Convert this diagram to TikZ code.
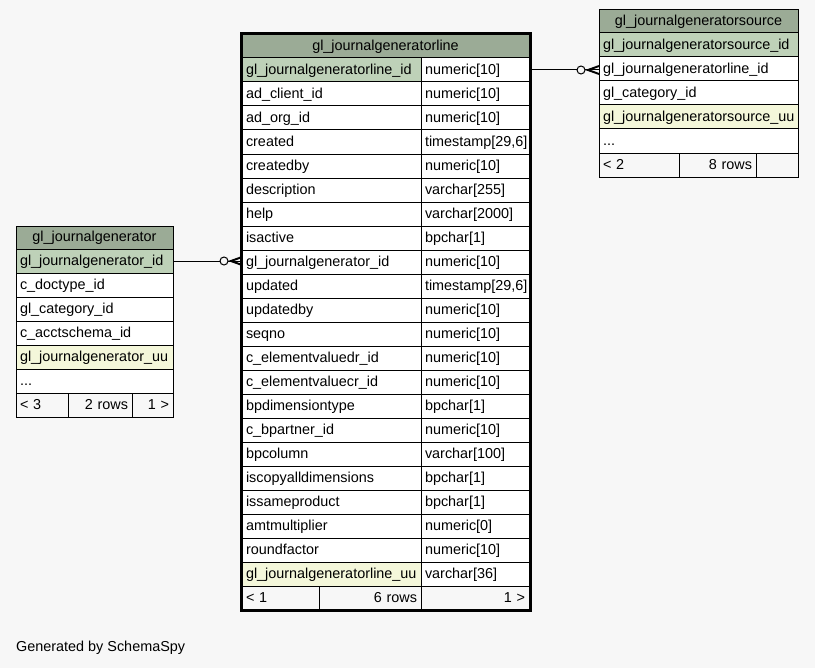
\documentclass[tikz,border=0pt]{standalone}
\usepackage{fontspec}
\setmainfont{Liberation Sans}
\usetikzlibrary{calc}
\definecolor{bgc}{HTML}{F7F7F7}
\definecolor{hdrc}{HTML}{9BAB96}
\definecolor{pkc}{HTML}{BED1B8}
\definecolor{uuc}{HTML}{F4F7DA}
\newcommand\cellfont{\fontsize{14.4bp}{17bp}\selectfont}
\newcommand\threedots{...}
\newcommand\crowend[1]{%
  \begin{scope}[shift={(#1)}]
    \fill[black] (-14,0) -- (0,-5) -- (0,-3) -- (-8,0) -- (0,3) -- (0,5) -- cycle;
    \draw[black, line width=1bp] (-14,0) -- (0,0);
    \draw[black, line width=1bp, fill=bgc] (-18,0) circle[radius=4];
  \end{scope}}
\begin{document}
\begin{tikzpicture}[x=1bp,y=-1bp,
  cell/.style={draw=black, line width=1bp, anchor=north west, minimum height=24bp,
    inner xsep=4bp, inner ysep=0pt, outer sep=0pt, font=\cellfont, align=left,
    text height=11.2bp, text depth=2.4bp},
  hdr/.style={cell, fill=hdrc, align=center, minimum height=23bp},
  foot/.style={cell, fill=bgc},
  conn/.style={draw=black, line width=1bp},
]
\fill[bgc] (0,0) rectangle (815,668);
\useasboundingbox (0,0) rectangle (815,668);

% ---------- center table ----------
\node[hdr, minimum width=287bp, text width=279bp] (ch) at (242,35) {gl\_journalgeneratorline};
\foreach \a/\b/\s [count=\i from 0] in {
  gl\_journalgeneratorline\_id/numeric[10]/pkc,
  ad\_client\_id/numeric[10]/white,
  ad\_org\_id/numeric[10]/white,
  created/{timestamp[29,6]}/white,
  createdby/numeric[10]/white,
  description/varchar[255]/white,
  help/varchar[2000]/white,
  isactive/bpchar[1]/white,
  gl\_journalgenerator\_id/numeric[10]/white,
  updated/{timestamp[29,6]}/white,
  updatedby/numeric[10]/white,
  seqno/numeric[10]/white,
  c\_elementvaluedr\_id/numeric[10]/white,
  c\_elementvaluecr\_id/numeric[10]/white,
  bpdimensiontype/bpchar[1]/white,
  c\_bpartner\_id/numeric[10]/white,
  bpcolumn/varchar[100]/white,
  iscopyalldimensions/bpchar[1]/white,
  issameproduct/bpchar[1]/white,
  amtmultiplier/numeric[0]/white,
  roundfactor/numeric[10]/white,
  gl\_journalgeneratorline\_uu/varchar[36]/uuc}{
  \node[cell, fill=\s, minimum width=179bp, text width=171bp] (c\i) at (242,{58+24*\i}) {\a};
  \node[cell, fill=white, minimum width=108bp, text width=100bp] (cv\i) at (421,{58+24*\i}) {\b};
}
\node[foot, minimum width=77bp, text width=69bp] (cf1) at (242,586) {< 1};
\node[foot, minimum width=102bp, text width=94bp, align=right] (cf2) at (319,586) {6 rows};
\node[foot, minimum width=108bp, text width=100bp, align=right] (cf3) at (421,586) {1 >};

% ---------- left table ----------
\node[hdr, minimum width=157bp, text width=149bp] (lh) at (16,226) {gl\_journalgenerator};
\foreach \a/\s [count=\i from 0] in {
  gl\_journalgenerator\_id/pkc,
  c\_doctype\_id/white,
  gl\_category\_id/white,
  c\_acctschema\_id/white,
  gl\_journalgenerator\_uu/uuc,
  \threedots/white}{
  \node[cell, fill=\s, minimum width=157bp, text width=149bp] (l\i) at (16,{249+24*\i}) {\a};
}
\node[foot, minimum width=52bp, text width=44bp] (lf1) at (16,393) {< 3};
\node[foot, minimum width=64bp, text width=56bp, align=right] (lf2) at (68,393) {2 rows};
\node[foot, minimum width=41bp, text width=33bp, align=right] (lf3) at (132,393) {1 >};

% ---------- right table ----------
\node[hdr, minimum width=199bp, text width=191bp] (rh) at (599,10) {gl\_journalgeneratorsource};
\foreach \a/\s [count=\i from 0] in {
  gl\_journalgeneratorsource\_id/pkc,
  gl\_journalgeneratorline\_id/white,
  gl\_category\_id/white,
  gl\_journalgeneratorsource\_uu/uuc,
  \threedots/white}{
  \node[cell, fill=\s, minimum width=199bp, text width=191bp] (r\i) at (599,{33+24*\i}) {\a};
}
\node[foot, minimum width=80bp, text width=72bp] (rf1) at (599,153) {< 2};
\node[foot, minimum width=77bp, text width=69bp, align=right] (rf2) at (679,153) {8 rows};
\node[foot, minimum width=42bp, text width=34bp] (rf3) at (756,153) {};

% ---------- connectors ----------
\coordinate (e1) at (l0.east -| c8.west);
\draw[conn] (l0.east) -- (e1);
\crowend{e1}
\coordinate (e2) at (cv0.east -| r1.west);
\draw[conn] (cv0.east) -- (e2);
\crowend{e2}

% thick border of the focus table
\draw[line width=3bp] (241,34) rectangle (530,610);

\node[anchor=west, inner sep=0pt, font=\cellfont] (gen) at (16,648) {Generated by SchemaSpy};
\end{tikzpicture}
\end{document}
